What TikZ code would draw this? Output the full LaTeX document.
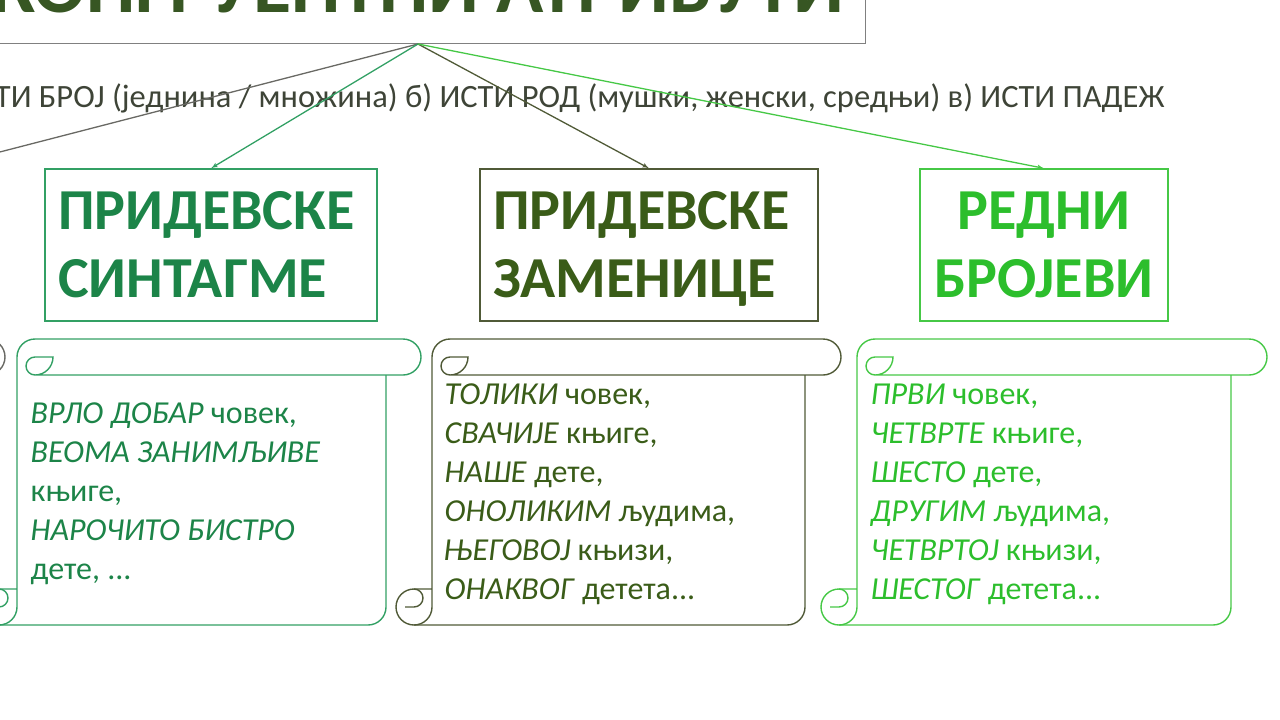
\documentclass[tikz,border=0pt]{standalone}
\usepackage{fontspec}
\setmainfont{Carlito}
\usepackage{tikz}
\usetikzlibrary{arrows}
\definecolor{naslov}{RGB}{55,86,35}
\definecolor{sivo}{RGB}{105,105,100}
\definecolor{tekst}{RGB}{62,68,55}
\definecolor{sint}{RGB}{28,132,72}
\definecolor{sintl}{RGB}{50,160,100}
\definecolor{zam}{RGB}{58,92,24}
\definecolor{zaml}{RGB}{80,90,55}
\definecolor{redni}{RGB}{44,190,44}
\definecolor{rednil}{RGB}{70,200,70}
\tikzset{edge/.style = {->,> = latex', line width=1.3pt}}

% svitak: boja, lijeva ivica tijela, desna ivica tijela, desni kraj
\newcommand{\svitak}[4]{%
  \draw[#1] ({#2+18},339) -- ({#4-18},339) arc[start angle=-90,end angle=90,radius=18]
    -- ({#2+18},375) arc[start angle=90,end angle=0,radius=18] -- ({#2+18},357)
    arc[start angle=-90,end angle=-270,radius=9];
  \draw[#1] ({#2+18},339) arc[start angle=-90,end angle=-180,radius=18] -- (#2,607)
    arc[start angle=0,end angle=270,radius=18] -- (#2,589);
  \draw[#1] ({#2-27},607) -- ({#2-18},607) arc[start angle=90,end angle=-90,radius=9];
  \draw[#1] (#3,375) -- (#3,607) arc[start angle=0,end angle=90,radius=18] -- ({#2-18},625);
}

\begin{document}
\begin{tikzpicture}[x=1pt, y=-1pt, line width=1.4pt,
    box/.style={draw, inner sep=13pt, text depth=69pt, minimum height=152pt, font=\fontsize{58}{68}\selectfont\bfseries},
    ex/.style={anchor=base west, inner sep=0pt, align=left, font=\fontsize{32}{39}\selectfont}]
  \useasboundingbox (0,0) rectangle (1280,720);
  \clip (0,0) rectangle (1280,720);

  \node[draw=gray, text=naslov, minimum width=895pt, inner ysep=30pt, anchor=south, font=\fontsize{78}{90}\selectfont\bfseries] (title) at (418,44) {КОНГРУЕНТНИ АТРИБУТИ};
  \node[anchor=base east, inner sep=0pt, text=tekst, font=\fontsize{32.5}{38}\selectfont] (rules) at (1165,107) {а) ИСТИ БРОЈ (једнина / множина) б) ИСТИ РОД (мушки, женски, средњи) в) ИСТИ ПАДЕЖ};

  \node[box, draw=sintl, text=sint, text width=306pt, align=left] (synt) at (211,245) {ПРИДЕВСКЕ\\СИНТАГМЕ};
  \node[box, draw=zaml, text=zam, text width=312pt, align=left] (zam) at (649,245) {ПРИДЕВСКЕ\\ЗАМЕНИЦЕ};
  \node[box, draw=rednil, text=redni, text width=222pt, align=center] (redni) at (1044,245) {РЕДНИ\\БРОЈЕВИ};

  \coordinate (off) at (-66,169);
  \draw[edge, sivo] (title.south) -- (off);
  \draw[edge, sintl] (title.south) -- (synt.north);
  \draw[edge, zaml] (title.south) -- (zam.north);
  \draw[edge, rednil] (title.south) -- (redni.north);

  \svitak{sivo}{-450}{-31}{5}
  \svitak{sintl}{17}{386}{421}
  \svitak{zaml}{432}{805}{841}
  \svitak{rednil}{857}{1231}{1267}

  % base = last line
  \node[ex, text=sint] (t1) at (30,579) {\textit{ВРЛО ДОБАР} човек,\\\textit{ВЕОМА ЗАНИМЉИВЕ}\\књиге,\\\textit{НАРОЧИТО БИСТРО}\\дете, ...};
  \node[ex, text=zam] (t2) at (444,599) {\textit{ТОЛИКИ} човек,\\\textit{СВАЧИЈЕ} књиге,\\\textit{НАШЕ} дете,\\\textit{ОНОЛИКИМ} људима,\\\textit{ЊЕГОВОЈ} књизи,\\\textit{ОНАКВОГ} детета...};
  \node[ex, text=redni] (t3) at (870,599) {\textit{ПРВИ} човек,\\\textit{ЧЕТВРТЕ} књиге,\\\textit{ШЕСТО} дете,\\\textit{ДРУГИМ} људима,\\\textit{ЧЕТВРТОЈ} књизи,\\\textit{ШЕСТОГ} детета...};
\end{tikzpicture}
\end{document}
